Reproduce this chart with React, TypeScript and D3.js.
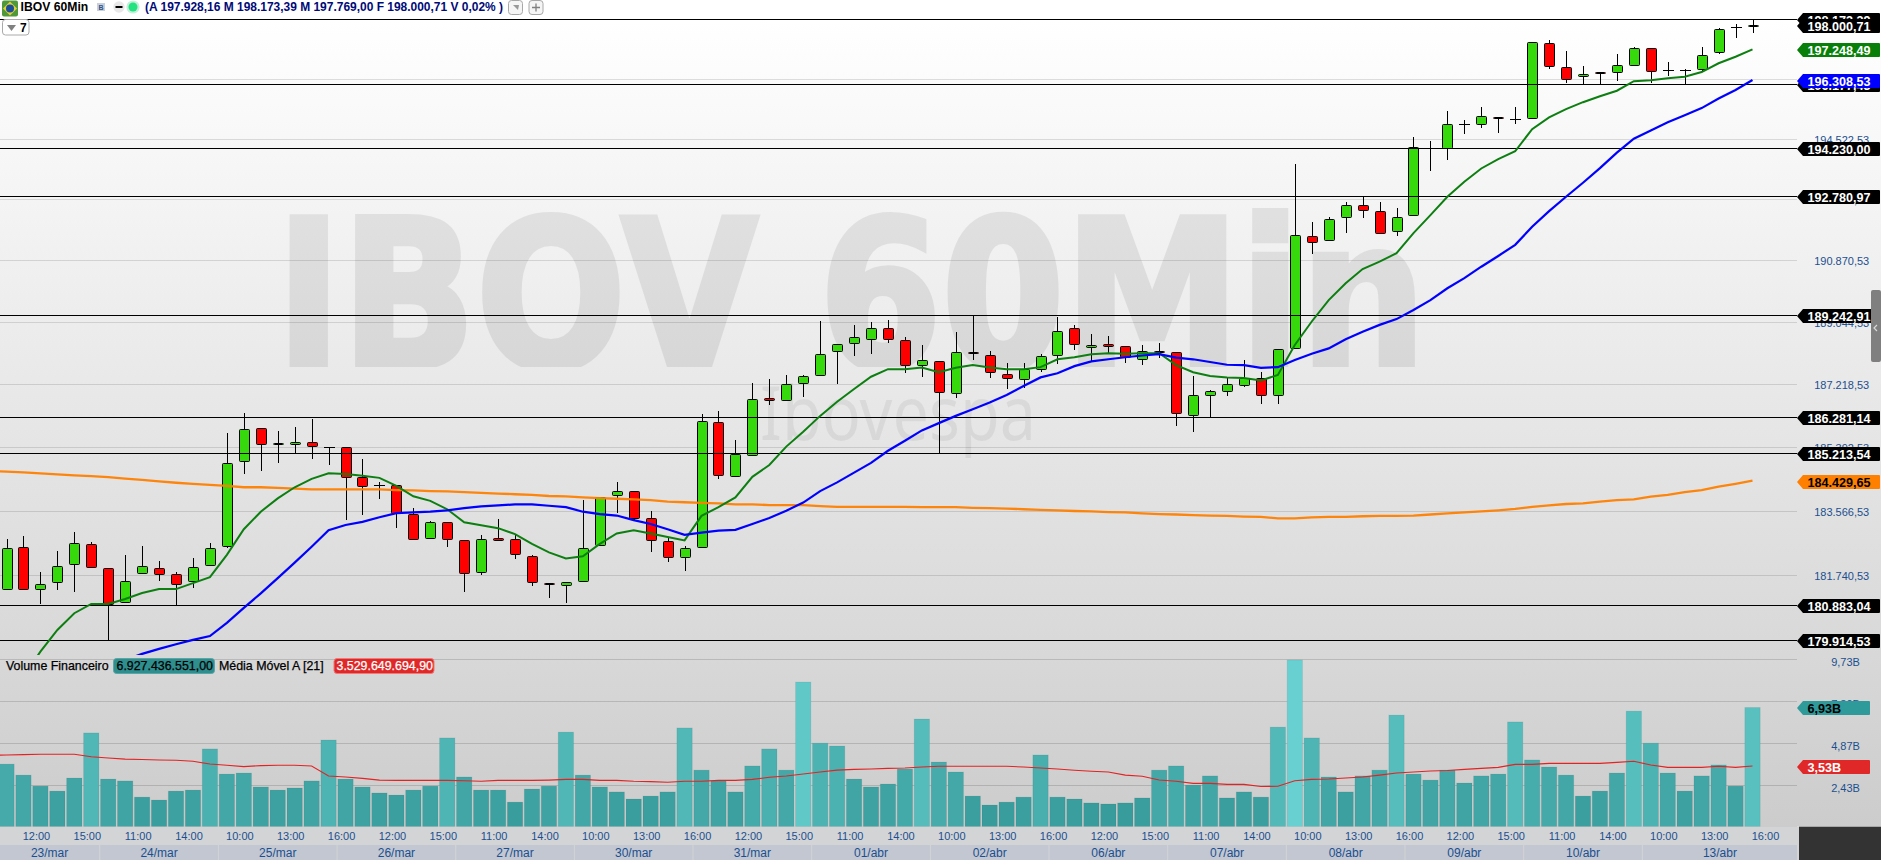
import React from 'react';
import * as d3 from 'd3';

const opens = [
  181340,182530,181340,181530,182040,182620,181930,180970,181790,181930,
  181760,181560,182020,182550,184990,185940,185500,185480,185540,185390,
  185390,184530,184300,184300,183470,182780,183240,182720,181820,182780,
  182750,182270,181500,181450,181560,182590,184010,184130,183370,182700,
  182240,182520,186110,184560,185160,186810,186750,187250,187480,188180,
  188420,188540,188860,188510,187780,187890,186960,188150,188070,187510,
  187370,187660,188070,188860,188300,188390,188330,187950,188190,188160,
  186320,186910,187020,187190,187400,186910,188270,191590,191470,192160,
  192510,192330,191740,192220,194230,194230,194960,194960,195180,195110,
  195140,197430,196700,196420,196550,196550,196760,197280,196610,196610,
  196640,197160,197930,197970,
];
const closes = [
  182500,181340,181480,181990,182640,181960,180920,181560,181990,181760,
  181480,181960,182500,184930,185910,185480,185510,185540,185420,185390,
  184530,184270,184300,183500,182750,183240,182750,181790,182750,182720,
  182330,181530,181490,181530,182500,183950,184130,183350,182730,182240,
  182500,186140,184580,185190,186790,186750,187220,187450,188100,188390,
  188600,188860,188540,187780,187920,186990,188160,188140,187570,187400,
  187660,188040,188770,188390,188360,188330,188010,188180,188170,186380,
  186920,187020,187220,187400,186910,188240,191620,191410,192100,192510,
  192360,191680,192170,194260,194230,194960,194960,195200,195160,195110,
  197460,196730,196330,196480,196530,196760,197280,196580,196610,196610,
  197060,197860,197930,198000.71,
];
const highs = [
  182760,182850,181820,182420,182960,182670,181930,182310,182560,182140,
  181820,182220,182640,185800,186380,185950,185850,185970,186200,185400,
  185390,185050,184380,184300,183640,183270,183240,182720,182870,183320,
  182870,182300,181500,181530,183870,183960,184380,184130,183560,182800,
  182560,186360,186440,185600,187260,187370,187490,187490,189070,188400,
  188950,189040,189100,188600,188360,187900,188740,189240,188180,187830,
  187830,188100,189190,188950,188680,188630,188340,188360,188430,188170,
  187450,187050,187400,187920,187570,188250,193760,192010,192160,192610,
  192770,192610,192420,194570,194440,195350,195080,195480,195180,195480,
  197470,197530,197190,196730,196550,197100,197310,197290,196850,196640,
  197310,197900,198020,198173.39,
];
const lows = [
  181340,181340,180960,181350,181300,181960,179930,180970,181790,181600,
  180890,181410,182020,182520,184660,184750,184980,185220,185090,184920,
  183340,183480,183940,183090,182750,182780,182570,181300,181770,182720,
  182230,181470,181130,180980,181560,182590,183540,183320,182420,182140,
  181880,182520,184520,184560,185160,186650,186750,186880,187480,187260,
  188080,188140,188470,187590,187470,185220,186840,187970,187420,187120,
  187150,187600,187830,188260,187890,188130,187880,187820,188010,186040,
  185870,186290,186920,187160,186680,186680,188270,191100,191470,191720,
  192170,191680,191620,192220,193560,193900,194700,194880,194730,195000,
  195140,196670,196260,196210,196180,196300,196760,196240,196450,196230,
  196580,197130,197620,197769,
];

// medias moveis, null onde a linha fica abaixo do painel
const maGreen = [
  null,178900,179580,180190,180660,180920,180920,181060,181230,181340,
  181340,181510,181680,182310,183040,183540,183920,184240,184480,184640,
  184620,184570,184510,184280,183980,183850,183610,183240,183150,183070,
  182900,182620,182380,182210,182270,182620,182920,183010,182920,182820,
  182720,183420,183670,183950,184540,184880,185410,185840,186300,186710,
  187080,187440,187660,187660,187710,187570,187700,187780,187710,187660,
  187660,187720,187950,188010,188100,188130,188110,188130,188130,187780,
  187570,187460,187420,187400,187330,187490,188370,189060,189690,190190,
  190610,190830,191080,191680,192220,192770,193220,193620,193900,194140,
  194810,195170,195420,195630,195810,195980,196270,196300,196360,196410,
  196550,196820,197020,197248.49,
];
const maBlue = [
  null,null,null,null,null,null,null,179350,179520,179660,
  179790,179910,180020,180390,180810,181220,181650,182090,182540,183010,
  183160,183250,183380,183500,183520,183540,183580,183640,183690,183720,
  183750,183750,183710,183670,183540,183470,183430,183300,183190,183040,
  182880,182940,183000,183020,183190,183360,183570,183800,184130,184380,
  184660,184940,185290,185580,185880,186090,186300,186490,186690,186910,
  187170,187420,187540,187750,187890,187950,188010,188060,188100,188000,
  187950,187870,187790,187780,187700,187720,187930,188110,188270,188540,
  188760,188960,189130,189400,189690,190040,190340,190680,191000,191330,
  191870,192340,192770,193190,193630,194100,194520,194770,195020,195230,
  195450,195740,196000,196308.53,
];
const maOrange = [
  184690,184670,184640,184610,184580,184560,184530,184490,184450,184410,
  184370,184340,184310,184280,184240,184240,184220,184200,184180,184180,
  184180,184180,184180,184160,184150,184130,184120,184100,184080,184060,
  184040,184020,183990,183980,183950,183930,183910,183890,183870,183830,
  183810,183790,183780,183750,183750,183730,183730,183730,183700,183680,
  183680,183680,183680,183680,183670,183670,183670,183650,183640,183630,
  183610,183590,183580,183560,183550,183530,183520,183490,183470,183460,
  183440,183430,183420,183400,183390,183350,183350,183380,183390,183390,
  183410,183420,183420,183430,183460,183490,183520,183550,183580,183620,
  183680,183720,183760,183780,183830,183870,183890,183970,184020,184100,
  184160,184260,184340,184429.65,
];
// a linha entra pela esquerda, vem do candle anterior ao primeiro
const maOrangeBefore = 184700;

// volume financeiro em bilhoes
const volumes = [
  3.64,3.00,2.36,2.07,2.83,5.45,2.77,2.66,1.72,1.55,
  2.07,2.13,4.52,3.06,3.12,2.31,2.13,2.25,2.66,5.04,
  2.77,2.31,1.96,1.84,2.13,2.36,5.16,2.89,2.13,2.13,
  1.43,2.19,2.36,5.50,3.00,2.31,2.02,1.61,1.78,2.02,
  5.74,3.29,2.66,2.02,3.53,4.52,3.29,8.41,4.86,4.69,
  2.77,2.31,2.48,3.35,6.26,3.76,3.18,1.78,1.26,1.43,
  1.72,4.17,1.72,1.61,1.38,1.32,1.38,1.67,3.29,3.53,
  2.42,2.95,1.67,2.02,1.72,5.79,9.69,5.16,2.89,2.02,
  2.95,3.29,6.49,3.06,2.71,3.29,2.54,2.95,3.06,6.09,
  3.88,3.47,3.00,1.78,2.07,3.12,6.72,4.86,3.12,2.07,
  2.95,3.59,2.36,6.93,
];
const volumeMa = [
  4.17,4.19,4.21,4.21,4.21,4.07,3.99,3.93,3.91,3.88,
  3.86,3.80,3.64,3.57,3.49,3.55,3.57,3.57,3.53,2.95,
  2.89,2.81,2.71,2.69,2.69,2.69,2.69,2.67,2.64,2.69,
  2.69,2.69,2.71,2.75,2.75,2.69,2.69,2.64,2.62,2.58,
  2.64,2.64,2.69,2.69,2.75,2.87,2.95,3.06,3.18,3.29,
  3.33,3.35,3.39,3.41,3.47,3.51,3.51,3.51,3.51,3.51,
  3.47,3.41,3.35,3.28,3.22,3.18,3.00,2.93,2.71,2.64,
  2.52,2.52,2.46,2.46,2.34,2.35,2.67,2.75,2.77,2.83,
  2.89,3.00,3.12,3.18,3.24,3.27,3.33,3.39,3.45,3.62,
  3.62,3.68,3.68,3.68,3.68,3.74,3.80,3.59,3.45,3.45,
  3.45,3.51,3.45,3.53,
];
const volumeMaBefore = 4.15;

const priceTicks = [196348.53,194522.53,192696.53,190870.53,189044.53,187218.53,185392.53,183566.53,181740.53];
const volumeTicks = [9.73,7.30,4.87,2.43];
const priceLines = [198173.39,196177.43,194230.00,192780.97,189242.91,186281.14,185213.54,180883.04,179914.53];
const hourLabels = [
  '12:00','15:00','11:00','14:00','10:00','13:00','16:00',
  '12:00','15:00','11:00','14:00','10:00','13:00','16:00',
  '12:00','15:00','11:00','14:00','10:00','13:00','16:00',
  '12:00','15:00','11:00','14:00','10:00','13:00','16:00',
  '12:00','15:00','11:00','14:00','10:00','13:00','16:00',
];
const dayLabels = ['23/mar','24/mar','25/mar','26/mar','27/mar','30/mar','31/mar','01/abr','02/abr','06/abr','07/abr','08/abr','09/abr','10/abr','13/abr'];

const WIDTH = 1881;
const HEIGHT = 860;
const PLOT_RIGHT = 1797;
const MAIN_BOTTOM = 655;
const VOL_BOTTOM = 826.7;
const BAR_STEP = (1752.5 - 6.5) / 103;

const x = d3.scaleLinear().domain([0, 103]).range([6.5, 1752.5]);
const y = d3.scaleLog().domain([180883.04, 194230]).range([605.3, 148.3]);
const yVol = d3.scaleLinear().domain([0, 9.73]).range([VOL_BOTTOM, 659.3]);
const volColor = d3.scaleLinear<string>().domain([1.3, 9.7]).range(['#399c9c', '#68d0d0']);

const br = d3.formatLocale({ decimal: ',', thousands: '.', grouping: [3], currency: ['', ''] });
const fmtPrice = br.format(',.2f');
const fmtVol = (v: number) => br.format('.2f')(v) + 'B';

const snap = (v: number) => Math.round(v) + 0.5;

const linePath = d3.line<number | null>()
  .defined(d => d !== null)
  .x((_, i) => x(i))
  .y(d => y(d as number));

const orangePath = d3.line<number>()
  .x((_, i) => x(i - 1))
  .y(d => y(d));

const volLinePath = d3.line<number>()
  .x((_, i) => x(i - 1))
  .y(d => yVol(d));

const SANS = '"Liberation Sans", Arial, sans-serif';
const AXIS_BLUE = '#1b4f8f';

function Tag({ value, text, fill, color, right = 1880 }: { value: number; text: string; fill: string; color: string; right?: number }) {
  const cy = Math.round(value) + 1;
  const h = 7;
  return (
    <g>
      <path d={`M${PLOT_RIGHT},${cy} L${PLOT_RIGHT + 6},${cy - h} H${right - 1} Q${right},${cy - h} ${right},${cy - h + 1} V${cy + h - 1} Q${right},${cy + h} ${right - 1},${cy + h} H${PLOT_RIGHT + 6} Z`} fill={fill} />
      <text x={1807.5} y={cy + 4.5} fontFamily={SANS} fontWeight="bold" fontSize={12.6} fill={color}>{text}</text>
    </g>
  );
}

export default function App() {
  const bars = opens.map((o, i) => ({ o, c: closes[i], h: highs[i], l: lows[i], i }));
  const hourIdx = hourLabels.map((_, k) => 1 + 3 * k);
  const dayStart = (k: number) => (k === 0 ? 0 : 6 + 7 * (k - 1));

  return (
    <div style={{ width: WIDTH, height: HEIGHT, overflow: 'hidden' }}>
      <style>{'body{margin:0;background:#fff}'}</style>
      <svg width={WIDTH} height={HEIGHT} viewBox={`0 0 ${WIDTH} ${HEIGHT}`} style={{ display: 'block' }}>
        <defs>
          <linearGradient id="mainBg" x1="0" y1="0" x2="0" y2="1">
            <stop offset="0" stopColor="#ffffff" />
            <stop offset="1" stopColor="#d8d8d8" />
          </linearGradient>
          <linearGradient id="volBg" x1="0" y1="0" x2="0" y2="1">
            <stop offset="0" stopColor="#d8d8d8" />
            <stop offset="1" stopColor="#cccccc" />
          </linearGradient>
          <clipPath id="mainClip"><rect x={0} y={0} width={PLOT_RIGHT} height={MAIN_BOTTOM} /></clipPath>
          <clipPath id="wmClip"><rect x={0} y={0} width={PLOT_RIGHT} height={367} /></clipPath>
        </defs>

        <rect x={0} y={0} width={WIDTH} height={20} fill="#ffffff" />
        <rect x={0} y={20} width={WIDTH} height={MAIN_BOTTOM - 20} fill="url(#mainBg)" />
        <rect x={0} y={MAIN_BOTTOM} width={WIDTH} height={VOL_BOTTOM - MAIN_BOTTOM} fill="url(#volBg)" />

        {/* marca d'agua */}
        <g clipPath="url(#wmClip)">
          <g opacity={0.075}>
            <text x={276} y={367} textLength={1150} lengthAdjust="spacingAndGlyphs" fontFamily='"DejaVu Sans", sans-serif' fontWeight="bold" fontSize={205} fill="#000" stroke="#000" strokeWidth={6}>IBOV 60Min</text>
          </g>
        </g>
        <text x={760} y={440} textLength={276} lengthAdjust="spacingAndGlyphs" fontFamily='"Noto Sans", sans-serif' fontSize={74} fill="#000" fillOpacity={0.06}>Ibovespa</text>

        {/* grades */}
        {priceTicks.map(t => (
          <line key={t} x1={0} x2={PLOT_RIGHT} y1={snap(y(t))} y2={snap(y(t))} stroke="#000" strokeOpacity={0.12} />
        ))}
        {volumeTicks.map(t => (
          <line key={t} x1={0} x2={PLOT_RIGHT} y1={snap(yVol(t))} y2={snap(yVol(t))} stroke="#000" strokeOpacity={0.14} />
        ))}
        <line x1={0} x2={PLOT_RIGHT} y1={VOL_BOTTOM} y2={VOL_BOTTOM} stroke="#000" strokeOpacity={0.1} />

        {/* candles */}
        <g clipPath="url(#mainClip)">
          {bars.map(d => {
            const cx = Math.round(x(d.i)) + 0.5;
            const top = Math.round(y(Math.max(d.o, d.c)));
            const bot = Math.round(y(Math.min(d.o, d.c)));
            const doji = bot - top < 1;
            return (
              <g key={d.i}>
                <line x1={cx} x2={cx} y1={Math.round(y(d.h))} y2={Math.round(y(d.l)) + 1} stroke="#000" />
                {doji ? (
                  <line x1={cx - 5.5} x2={cx + 5.5} y1={top + 0.5} y2={top + 0.5} stroke="#000" />
                ) : (
                  <rect x={cx - 5} y={top + 0.5} width={10} height={bot - top} rx={1} fill={d.c >= d.o ? '#36da0c' : '#ff0000'} stroke="#000" />
                )}
              </g>
            );
          })}

          {priceLines.map(p => (
            <line key={p} x1={0} x2={PLOT_RIGHT} y1={snap(y(p))} y2={snap(y(p))} stroke="#000" />
          ))}

          <path d={orangePath([maOrangeBefore, ...maOrange]) ?? ''} fill="none" stroke="#ff8000" strokeWidth={2.3} opacity={0.95} />
          <path d={linePath(maGreen) ?? ''} fill="none" stroke="#0c7f10" strokeWidth={2} />
          <path d={linePath(maBlue) ?? ''} fill="none" stroke="#0000ff" strokeWidth={2.2} />
        </g>

        {/* volume */}
        {volumes.map((v, i) => (
          <rect key={i} x={x(i) - BAR_STEP / 2 + 0.8} y={yVol(v)} width={BAR_STEP - 1.6} height={VOL_BOTTOM - yVol(v)} fill={volColor(v)} stroke="#000" strokeOpacity={0.06} />
        ))}
        <path d={volLinePath([volumeMaBefore, ...volumeMa]) ?? ''} fill="none" stroke="#e32222" strokeWidth={1.1} />

        <g fontFamily={SANS} fontSize={12.4} stroke="none">
          <text x={6} y={670} fill="#000" stroke="#000" strokeWidth={0.25}>Volume Financeiro</text>
          <rect x={113.5} y={658.5} width={101} height={15} rx={3} fill="#2f8f8f" stroke="#5aa5a5" />
          <text x={116.5} y={670} fill="#000" stroke="#000" strokeWidth={0.25}>6.927.436.551,00</text>
          <text x={219} y={670} fill="#000" stroke="#000" strokeWidth={0.25}>Média Móvel A [21]</text>
          <rect x={334} y={658.5} width={100} height={15} rx={3} fill="#e02828" stroke="#ee7a7a" />
          <text x={336.5} y={670} fill="#fff" stroke="#fff" strokeWidth={0.25}>3.529.649.694,90</text>
        </g>

        {/* eixo do tempo */}
        <rect x={0} y={VOL_BOTTOM} width={PLOT_RIGHT + 2} height={HEIGHT - VOL_BOTTOM} fill="#d3d4d6" />
        {hourLabels.map((h, k) => (
          <text key={k} x={x(hourIdx[k]) + 13} y={839.5} textAnchor="middle" fontFamily={SANS} fontSize={11} fill={AXIS_BLUE}>{h}</text>
        ))}
        {dayLabels.map((d, k) => {
          const x0 = k === 0 ? 0 : x(dayStart(k)) - BAR_STEP / 2 + 0.5;
          const x1 = k === dayLabels.length - 1 ? PLOT_RIGHT : x(dayStart(k + 1)) - BAR_STEP / 2 - 0.5;
          return (
            <g key={d}>
              <rect x={x0} y={845} width={x1 - x0} height={15} fill="#c2c7d1" />
              <text x={(x0 + x1) / 2} y={856.5} textAnchor="middle" fontFamily={SANS} fontSize={12} fill={AXIS_BLUE}>{d}</text>
            </g>
          );
        })}
        <rect x={PLOT_RIGHT + 2} y={VOL_BOTTOM} width={WIDTH - PLOT_RIGHT - 2} height={HEIGHT - VOL_BOTTOM} fill="#333333" />

        {/* eixos da direita */}
        {priceTicks.map(t => (
          <text key={t} x={1841.7} y={snap(y(t)) + 4.5} textAnchor="middle" fontFamily={SANS} fontSize={11} fill={AXIS_BLUE}>{fmtPrice(t)}</text>
        ))}
        {volumeTicks.map(t => (
          <text key={t} x={1845.5} y={snap(yVol(t)) + 6} textAnchor="middle" fontFamily={SANS} fontSize={11} fill={AXIS_BLUE}>{fmtVol(t)}</text>
        ))}

        {priceLines.map(p => (
          <Tag key={p} value={y(p)} text={fmtPrice(p)} fill="#000" color="#fff" />
        ))}
        <Tag value={y(198000.71)} text="198.000,71" fill="#000" color="#fff" />
        <Tag value={y(197248.49)} text="197.248,49" fill="#087f08" color="#fff" />
        <Tag value={y(196308.53)} text="196.308,53" fill="#0000ff" color="#fff" />
        <Tag value={y(184429.65)} text="184.429,65" fill="#ff8000" color="#000" />
        <Tag value={yVol(6.93)} text="6,93B" fill="#2f9a9a" color="#000" right={1870} />
        <Tag value={yVol(3.53)} text="3,53B" fill="#e02828" color="#fff" right={1870} />

        {/* alca de rolagem */}
        <rect x={1871} y={290} width={10} height={72} rx={2} fill="#7f7f7f" />
        <path d="M1877,325 L1874,328 L1877,331" fill="none" stroke="#d8d8d8" strokeWidth={1.2} />

        {/* cabecalho */}
        <rect x={2} y={0.5} width={16} height={16} rx={2} fill="#4e9a3a" />
        <path d="M10,1.5 L17,8.5 L10,15.5 L3,8.5 Z" fill="#e3cf3b" />
        <circle cx={10} cy={8.5} r={4} fill="#1c4f9a" />
        <text x={20.5} y={11} fontFamily={SANS} fontWeight="bold" fontSize={12.2} fill="#000">IBOV 60Min</text>
        <rect x={97} y={3} width={8} height={8} fill="#c8d0dc" />
        <text x={98.5} y={10} fontFamily={SANS} fontSize={7} fontWeight="bold" fill="#34558c">B</text>
        <circle cx={119} cy={7} r={5.7} fill="#e8e8e8" />
        <rect x={115.5} y={6} width={7} height={2} fill="#000" />
        <circle cx={133} cy={7} r={6.6} fill="#c5efd9" />
        <circle cx={133} cy={7} r={4.5} fill="#22e37f" />
        <text x={145} y={11} textLength={358} lengthAdjust="spacingAndGlyphs" fontFamily={SANS} fontWeight="bold" fontSize={12.2} fill="#000a78">(A 197.928,16 M 198.173,39 M 197.769,00 F 198.000,71 V 0,02% )</text>
        <rect x={508.5} y={0.5} width={14} height={14} rx={3} fill="#f5f5f5" stroke="#a8a8a8" />
        <path d="M513,5 L519,5 L518,10 Z" fill="#999" />
        <rect x={529} y={0.5} width={14} height={14} rx={3} fill="#f5f5f5" stroke="#a8a8a8" />
        <path d="M532,7.5 H540 M536,3.5 V11.5" stroke="#808080" strokeWidth={1.3} />
        <rect x={2.5} y={19.5} width={26.5} height={15.5} rx={3} fill="#ffffff" stroke="#aaa" />
        <path d="M7,25 L16,25 L11.5,31 Z" fill="#808080" />
        <text x={20} y={32} fontFamily={SANS} fontWeight="bold" fontSize={12} fill="#000">7</text>
      </svg>
    </div>
  );
}
